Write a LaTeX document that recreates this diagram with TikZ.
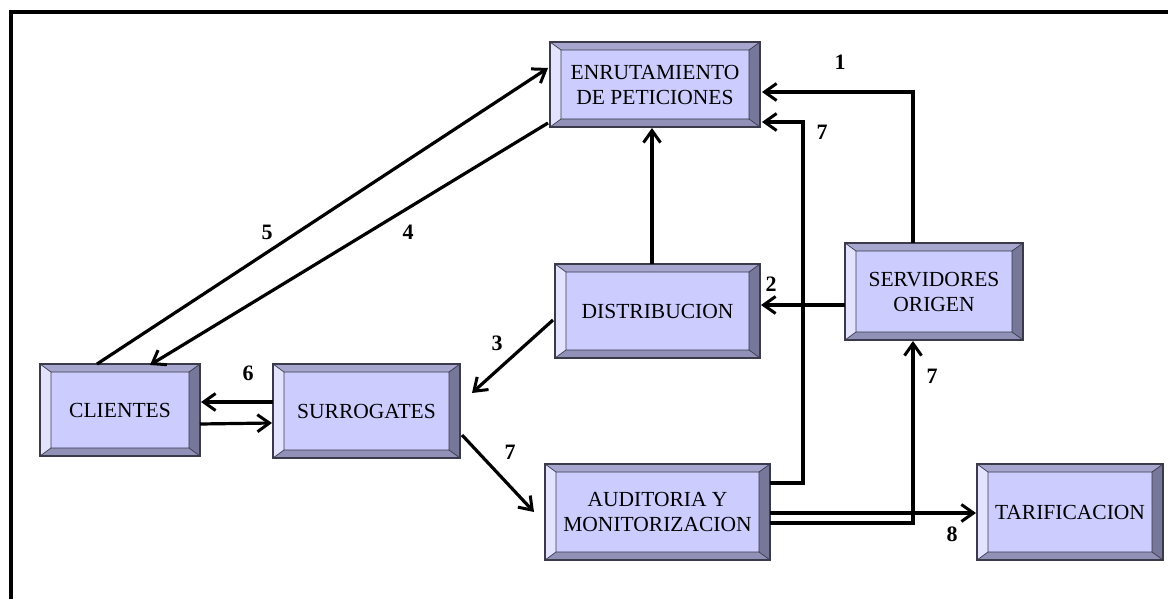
\documentclass[tikz,border=0pt]{standalone}
\usepackage{fontspec}
\setmainfont{Liberation Serif}
\usetikzlibrary{arrows.meta,calc}

\definecolor{facein}{HTML}{CCCCFF}
\definecolor{bevtop}{HTML}{A6A6CF}
\definecolor{bevleft}{HTML}{E3E3FF}
\definecolor{bevright}{HTML}{77779A}
\definecolor{bevbot}{HTML}{9191B8}
\definecolor{edgecol}{HTML}{3A3A4A}

\tikzset{
  bevbox/.style={
    draw=edgecol, line width=1.1pt, fill=facein, inner sep=0pt, outer sep=0pt,
    align=center, font=\fontsize{21.5}{25}\selectfont,
    path picture={
      \path (path picture bounding box.north west) coordinate (o1)
            (path picture bounding box.south east) coordinate (o3);
      \path (o1 -| o3) coordinate (o2) (o1 |- o3) coordinate (o4);
      \path ($(o1)+(11pt,-8pt)$) coordinate (i1)
            ($(o2)+(-11pt,-8pt)$) coordinate (i2)
            ($(o3)+(-11pt,8pt)$) coordinate (i3)
            ($(o4)+(11pt,8pt)$) coordinate (i4);
      \fill[bevtop] (o1)--(o2)--(i2)--(i1)--cycle;
      \fill[bevright] (o2)--(o3)--(i3)--(i2)--cycle;
      \fill[bevbot] (o3)--(o4)--(i4)--(i3)--cycle;
      \fill[bevleft] (o4)--(o1)--(i1)--(i4)--cycle;
      \draw[edgecol, line width=0.7pt] (i1)--(i2)--(i3)--(i4)--cycle
        (o1)--(i1) (o2)--(i2) (o3)--(i3) (o4)--(i4);
    }
  },
  arr/.style={line width=3.2pt, -{Straight Barb[length=12pt,width=17pt,line width=3pt]}},
  num/.style={font=\bfseries\fontsize{22}{22}\selectfont, inner sep=0pt}
}

\begin{document}
\begin{tikzpicture}[x=1pt,y=-1pt]
\useasboundingbox (0,0) rectangle (1168,599);

% frame
\draw[line width=4pt] (11,599) -- (11,12) -- (1168,12);

% boxes
\node[bevbox, minimum width=210pt, minimum height=85pt] (enr) at (655,84.5) {ENRUTAMIENTO\\DE PETICIONES};
\node[bevbox, minimum width=205pt, minimum height=94pt] (dist) at (657.5,311) {DISTRIBUCION};
\node[bevbox, minimum width=160pt, minimum height=92pt] (cli) at (120,410) {CLIENTES};
\node[bevbox, minimum width=187pt, minimum height=94pt] (sur) at (366.5,411) {SURROGATES};
\node[bevbox, minimum width=225pt, minimum height=96pt] (aud) at (657.5,512) {AUDITORIA Y\\MONITORIZACION};
\node[bevbox, minimum width=178pt, minimum height=97pt] (srv) at (934,291.5) {SERVIDORES\\ORIGEN};
\node[bevbox, minimum width=186pt, minimum height=96pt] (tar) at (1070,512) {TARIFICACION};

% free ends
\coordinate (surin) at (472,393);
\coordinate (audin) at (534,512);

% connectors
\draw[arr] ($(srv.north west)+(68,0)$) |- ($(enr.north east)+(2,50)$);
\draw[arr] ($(aud.north east)+(0,19)$) -- ++(33,0) |- ($(enr.north east)+(2,80)$);
\draw[arr] ($(aud.north east)+(0,49)$) -- ($(tar.north west)+(-1,49)$);
\draw[arr] ($(aud.north east)+(0,59)$) -| ($(srv.south west)+(68,1)$);
\draw[arr] ($(srv.north west)+(0,62)$) -- ($(dist.north east)+(1,41)$);
\draw[arr] ($(dist.north west)+(97,0)$) -- ($(enr.south west)+(102,1)$);
\draw[arr] ($(dist.north west)+(-2,56)$) -- (surin);
\draw[arr] ($(cli.north west)+(57,0)$) -- ($(enr.north west)+(-2,26)$);
\draw[arr] ($(enr.north west)+(-2,81)$) -- ($(cli.north west)+(110,1)$);
\draw[arr] ($(sur.north west)+(0,38)$) -- ($(cli.north east)+(1,38)$);
\draw[arr] ($(cli.north east)+(0,60)$) -- ($(sur.north west)+(-1,59)$);
\draw[arr] ($(sur.north east)+(2,71)$) -- (audin);

% step numbers
\node[num] (n1) at (840,62) {1};
\node[num] (n7a) at (822,132) {7};
\node[num] (n2) at (771,284) {2};
\node[num] (n3) at (497,343) {3};
\node[num] (n4) at (408,232) {4};
\node[num] (n5) at (267,232) {5};
\node[num] (n6) at (248,373) {6};
\node[num] (n7b) at (510,452) {7};
\node[num] (n7c) at (932,376) {7};
\node[num] (n8) at (952,534) {8};
\end{tikzpicture}
\end{document}
